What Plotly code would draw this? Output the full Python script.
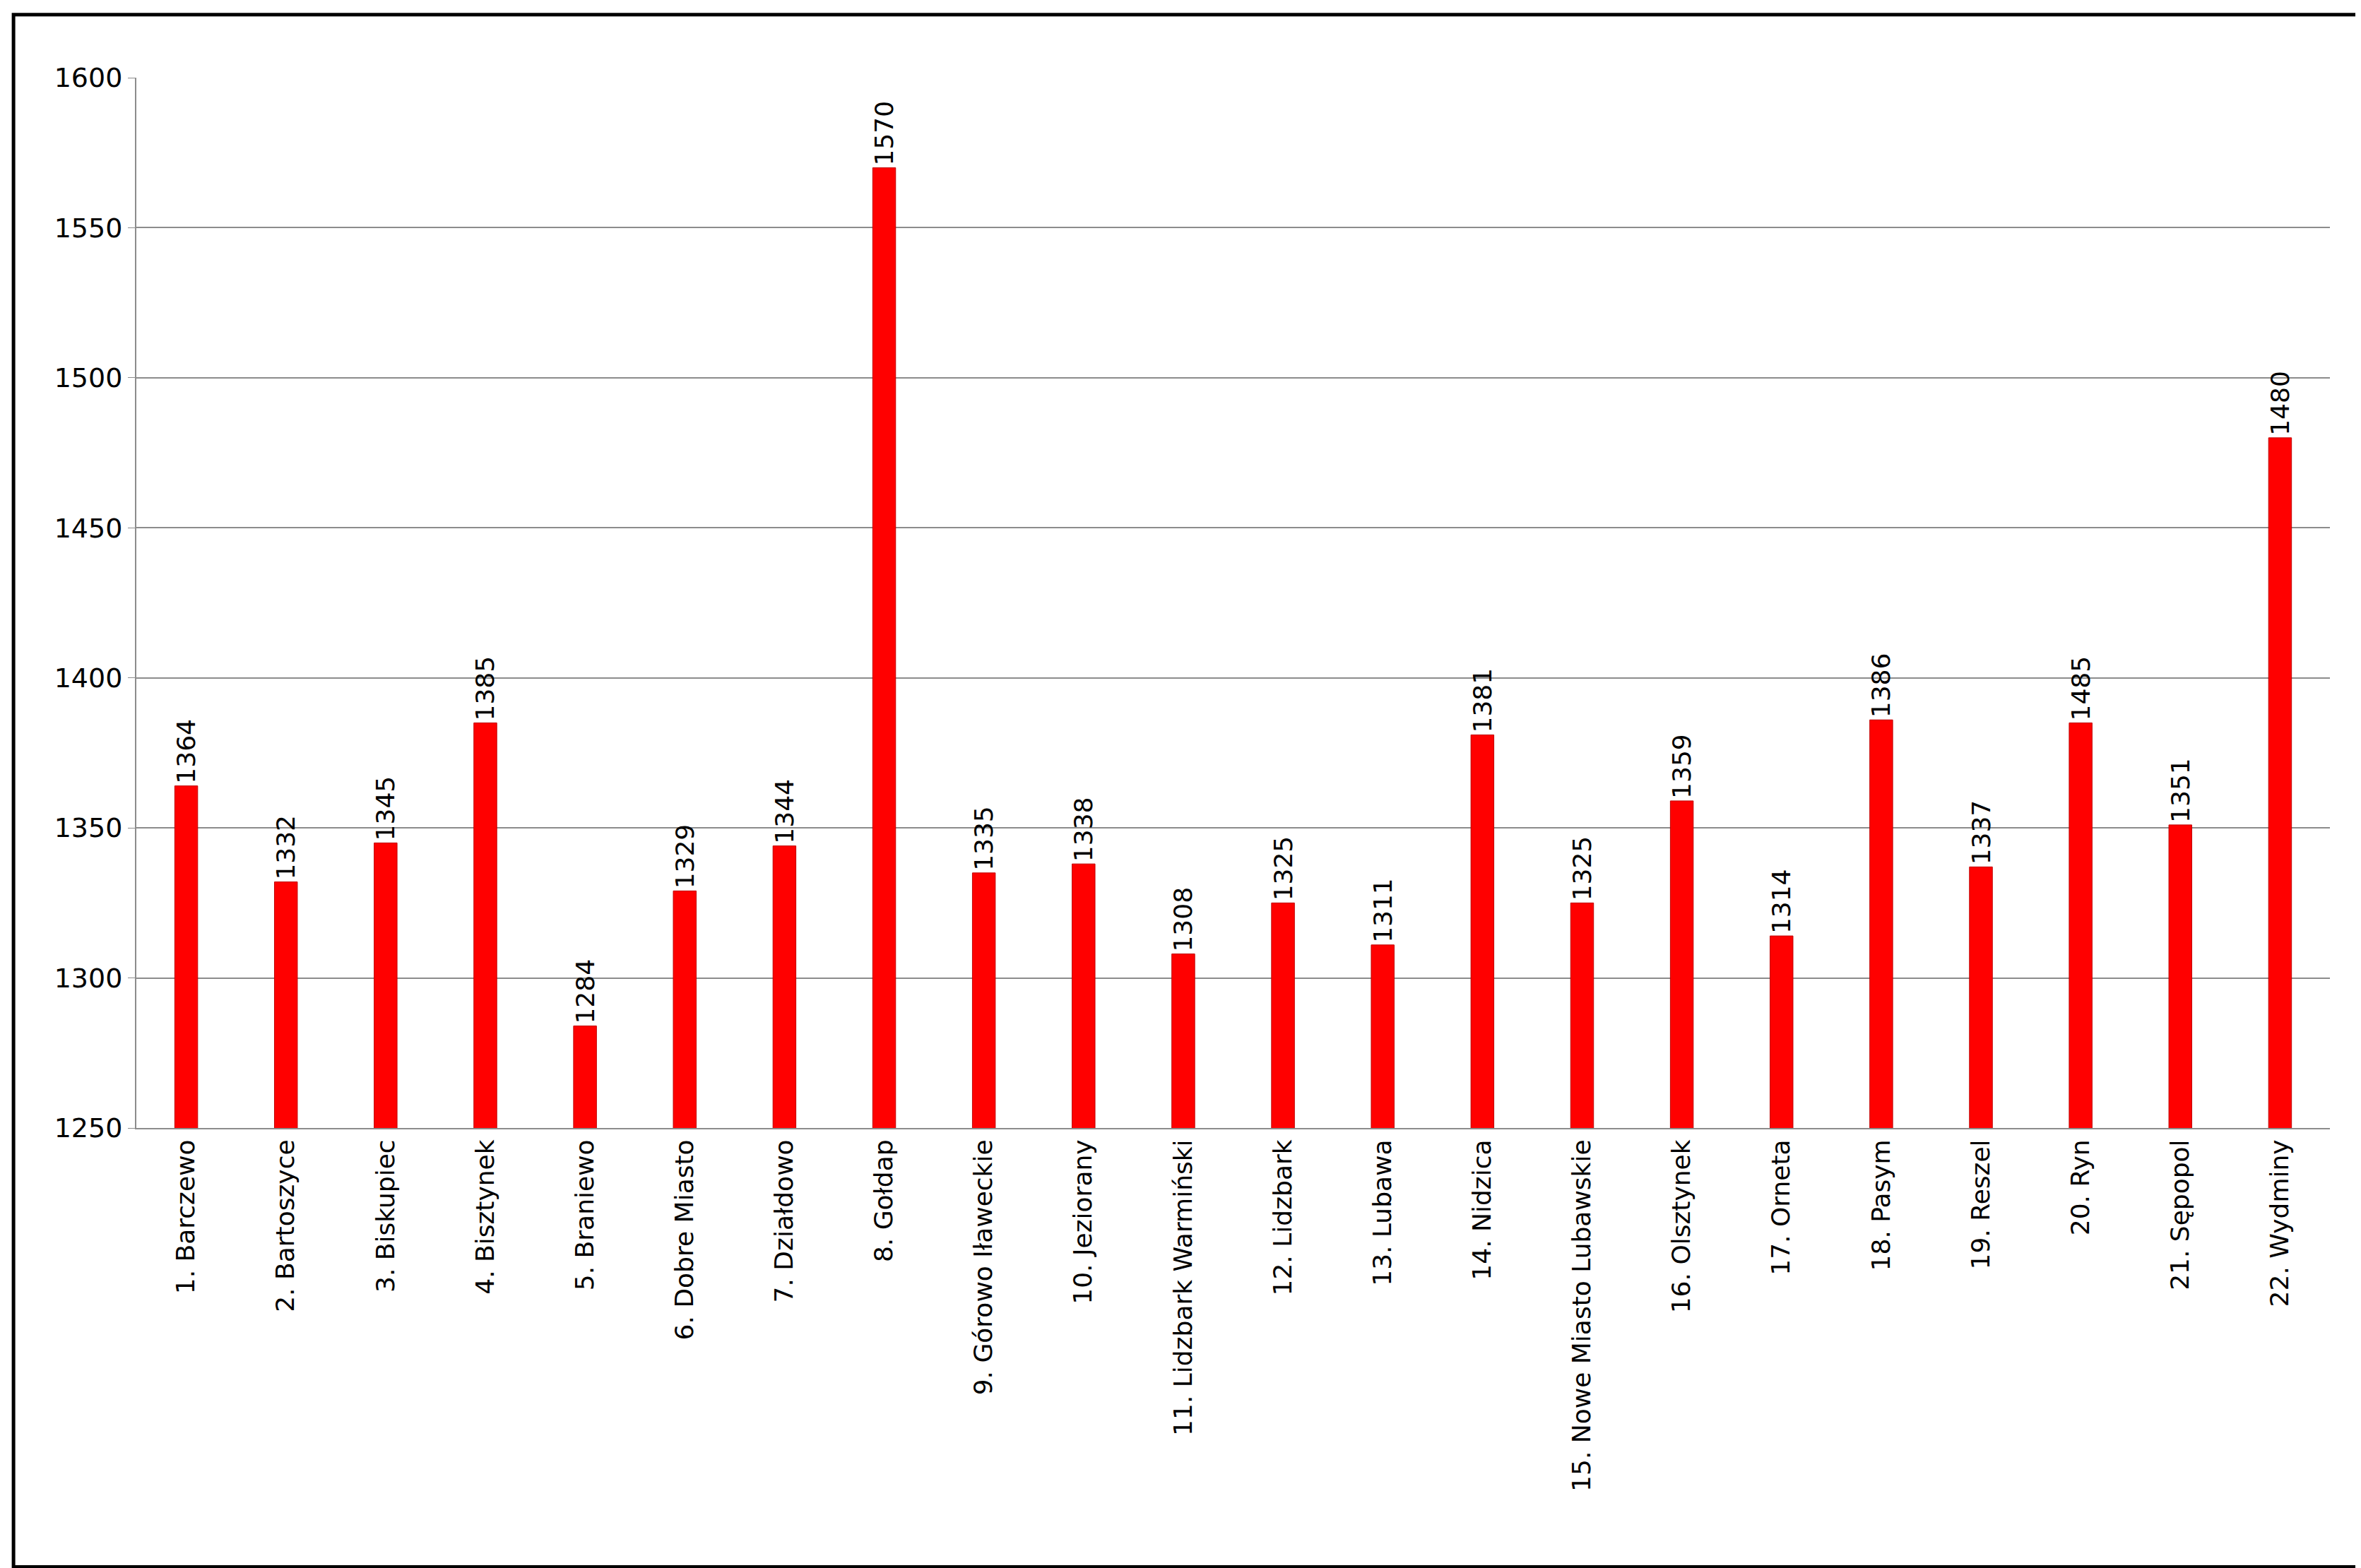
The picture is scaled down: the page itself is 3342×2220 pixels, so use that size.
import plotly.graph_objects as go

categories = ["1. Barczewo","2. Bartoszyce","3. Biskupiec","4. Bisztynek","5. Braniewo","6. Dobre Miasto",
"7. Działdowo","8. Gołdap","9. Górowo Iławeckie","10. Jeziorany","11. Lidzbark Warmiński","12. Lidzbark",
"13. Lubawa","14. Nidzica","15. Nowe Miasto Lubawskie","16. Olsztynek","17. Orneta","18. Pasym",
"19. Reszel","20. Ryn","21. Sępopol","22. Wydminy"]
values = [1364,1332,1345,1385,1284,1329,1344,1570,1335,1338,1308,1325,1311,1381,1325,1359,1314,1386,1337,1385,1351,1480]
labels = ["1364","1332","1345","1385","1284","1329","1344","1570","1335","1338","1308","1325","1311","1381","1325","1359","1314","1386","1337","1485","1351","1480"]

fig = go.Figure(go.Bar(x=categories, y=values, text=labels, textposition="outside", textangle=-90,
                       marker=dict(color="#ff0000", line=dict(color="#c00000", width=1)), width=0.23,
                       textfont=dict(size=36, color="black"), cliponaxis=False))
fig.update_layout(width=3342, height=2220, paper_bgcolor="white", plot_bgcolor="white",
                  margin=dict(l=185, r=52, t=102, b=631), showlegend=False,
                  uniformtext=dict(minsize=36, mode="show"),
                  font=dict(family="DejaVu Sans", size=36, color="black"))
fig.update_yaxes(range=[1250,1600], dtick=50, showgrid=True, gridcolor="#8c8c8c", gridwidth=2,
                 showline=True, linecolor="#8c8c8c", linewidth=2, ticks="outside", ticklen=10,
                 tickcolor="#8c8c8c", tickfont=dict(size=38))
fig.update_xaxes(tickangle=-90, showline=True, linecolor="#8c8c8c", linewidth=2, tickfont=dict(size=36))
fig.add_shape(type="rect", xref="paper", yref="paper", x0=-0.056, x1=1.0126, y0=-0.418, y1=1.06,
              line=dict(color="black", width=5))
fig.write_html("out.html")
